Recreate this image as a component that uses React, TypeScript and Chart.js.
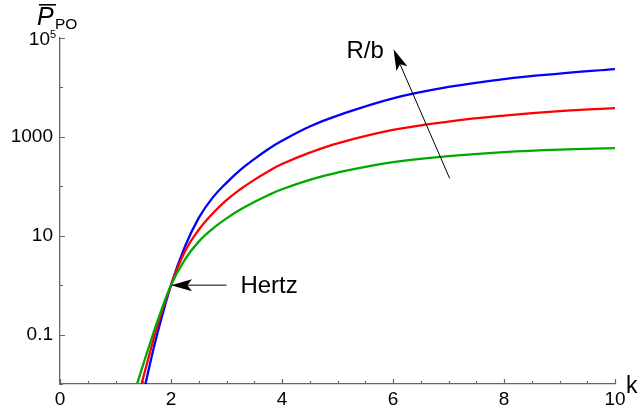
import React, { useEffect, useRef } from 'react';
import { Chart, registerables } from 'chart.js';

Chart.register(...registerables);

// ---- data ----
const kBlue = [1.5, 1.6, 1.75, 2, 2.25, 2.5, 2.75, 3, 3.25, 3.5, 3.75, 4, 4.5, 5, 6, 7, 8, 9, 10];
const pBlue = [0.0063, 0.02, 0.1, 1, 6.0, 22.9, 58.9, 117.5, 214, 355, 562, 832, 1622, 2692, 6026, 10233, 14791, 19055, 23442];
const kRed = [1.4, 1.5, 1.6, 1.75, 2, 2.25, 2.5, 2.75, 3, 3.25, 3.5, 3.75, 4, 4.5, 5, 6, 7, 8, 9, 10];
const pRed = [0.005, 0.0135, 0.0355, 0.145, 1, 4.8, 13.2, 28.2, 52.5, 87, 135, 200, 282, 479, 741, 1380, 2042, 2692, 3311, 3802];
const kGreen = [1.3, 1.4, 1.5, 1.6, 1.75, 2, 2.25, 2.5, 2.75, 3, 3.25, 3.5, 3.75, 4, 4.5, 5, 6, 7, 8, 9, 10];
const pGreen = [0.0047, 0.011, 0.025, 0.056, 0.178, 1, 3.3, 7.6, 13.8, 22.4, 33.9, 47.9, 66, 87, 135, 190, 309, 407, 490, 550, 589];

const xTicks = [0, 2, 4, 6, 8, 10];
const xMinorTicks = [0.5, 1, 1.5, 2.5, 3, 3.5, 4.5, 5, 5.5, 6.5, 7, 7.5, 8.5, 9, 9.5];
const yTicks = [0.01, 0.1, 1, 10, 100, 1000, 10000, 100000];
const yLabeled = [0.1, 10, 1000];
const yLabelText = ['0.1', '10', '1000'];

// annotations (data coordinates)
const hertzTip = [2, 1];
const hertzTail = [3.0, 1];
const hertzTextAt = [3.25, 1];
const rbTip = [6.01, 59000];
const rbTail = [7.02, 145];
const rbTextAt = [5.16, 39800];

const FONT = '"Liberation Sans", Arial, sans-serif';
const AXIS = '#666666';

function arrow(ctx: CanvasRenderingContext2D, x1: number, y1: number, x2: number, y2: number, len: number, hw: number) {
  const dx = x2 - x1, dy = y2 - y1;
  const d = Math.hypot(dx, dy);
  const ux = dx / d, uy = dy / d;
  const px = -uy, py = ux;
  const bx = x2 - ux * len, by = y2 - uy * len;
  const nx = x2 - ux * len * 0.78, ny = y2 - uy * len * 0.78;
  ctx.save();
  ctx.strokeStyle = '#000';
  ctx.lineWidth = 1;
  ctx.beginPath();
  ctx.moveTo(x1, y1);
  ctx.lineTo(nx, ny);
  ctx.stroke();
  ctx.fillStyle = '#000';
  ctx.beginPath();
  ctx.moveTo(x2, y2);
  ctx.lineTo(bx + px * hw, by + py * hw);
  ctx.lineTo(nx, ny);
  ctx.lineTo(bx - px * hw, by - py * hw);
  ctx.closePath();
  ctx.fill();
  ctx.restore();
}

const decor = {
  id: 'decor',
  afterDraw(chart: any) {
    const ctx: CanvasRenderingContext2D = chart.ctx;
    const xs = chart.scales.x, ys = chart.scales.y;
    const area = chart.chartArea;
    const X = (v: number) => xs.getPixelForValue(v);
    const Y = (v: number) => ys.getPixelForValue(v);
    ctx.save();
    // ticks (inward)
    ctx.strokeStyle = AXIS;
    ctx.lineWidth = 1.2;
    ctx.beginPath();
    xTicks.forEach((v) => {
      const x = Math.round(X(v)) + 0.5;
      ctx.moveTo(x, area.bottom);
      ctx.lineTo(x, area.bottom - 5);
    });
    xMinorTicks.forEach((v) => {
      const x = Math.round(X(v)) + 0.5;
      ctx.moveTo(x, area.bottom);
      ctx.lineTo(x, area.bottom - 3);
    });
    yTicks.forEach((v) => {
      const y = Math.round(Y(v)) + 0.5;
      const major = yLabeled.includes(v) || v === 100000;
      ctx.moveTo(area.left, y);
      ctx.lineTo(area.left + (major ? 5 : 3), y);
    });
    ctx.stroke();

    ctx.fillStyle = '#000';
    // 10^5 label
    const y5 = Y(100000);
    ctx.font = `19px ${FONT}`;
    ctx.textAlign = 'right';
    ctx.textBaseline = 'alphabetic';
    ctx.fillText('10', 50, y5 + 7);
    ctx.font = `11px ${FONT}`;
    ctx.textAlign = 'left';
    ctx.fillText('5', 50, y5 - 0.5);

    // y axis title  P̄_PO
    ctx.font = `italic 25px ${FONT}`;
    ctx.fillText('P', 37, 25);
    ctx.fillRect(39, 4, 17, 1.6);
    ctx.font = `15.5px ${FONT}`;
    ctx.fillText('PO', 55, 29);

    // x axis title
    ctx.font = `23px ${FONT}`;
    ctx.fillText('k', 626, 393);

    ctx.restore();
  },
  afterDatasetsDraw(chart: any) {
    const ctx: CanvasRenderingContext2D = chart.ctx;
    const xs = chart.scales.x, ys = chart.scales.y;
    const X = (v: number) => xs.getPixelForValue(v);
    const Y = (v: number) => ys.getPixelForValue(v);
    arrow(ctx, X(hertzTail[0]), Y(hertzTail[1]), X(hertzTip[0]), Y(hertzTip[1]), 21, 6);
    arrow(ctx, X(rbTail[0]), Y(rbTail[1]), X(rbTip[0]), Y(rbTip[1]), 21, 6);
    ctx.save();
    ctx.fillStyle = '#000';
    ctx.font = `24px ${FONT}`;
    ctx.textAlign = 'left';
    ctx.textBaseline = 'middle';
    ctx.fillText('Hertz', X(hertzTextAt[0]), Y(hertzTextAt[1]) + 1);
    ctx.textBaseline = 'alphabetic';
    ctx.fillText('R/b', X(rbTextAt[0]), Y(rbTextAt[1]));
    ctx.restore();
  },
};

function toPoints(ks: number[], ps: number[]) {
  return ks.map((k, i) => ({ x: k, y: ps[i] }));
}

export default function App() {
  const ref = useRef<HTMLCanvasElement>(null);
  useEffect(() => {
    if (!ref.current) return;
    const line = (data: any, color: string) => ({
      data,
      borderColor: color,
      backgroundColor: color,
      borderWidth: 2.3,
      pointRadius: 0,
      fill: false,
      tension: 0.4,
    });
    const chart = new Chart(ref.current, {
      type: 'line',
      data: {
        datasets: [
          line(toPoints(kGreen, pGreen), 'rgb(0,168,0)'),
          line(toPoints(kRed, pRed), 'rgb(255,0,0)'),
          line(toPoints(kBlue, pBlue), 'rgb(0,0,255)'),
        ],
      },
      options: {
        animation: false,
        responsive: false,
        devicePixelRatio: 1,
        layout: { padding: { top: 38, right: 23, left: 0, bottom: 0 } },
        plugins: { legend: { display: false }, tooltip: { enabled: false } },
        scales: {
          x: {
            type: 'linear',
            min: 0,
            max: 10,
            grid: { display: false, drawTicks: false },
            border: { display: true, color: AXIS, width: 1.3 },
            afterBuildTicks: (s: any) => { s.ticks = xTicks.map((v) => ({ value: v })); },
            afterFit: (s: any) => { s.height = 33; },
            ticks: {
              autoSkip: false,
              maxRotation: 0,
              padding: 4,
              color: '#000',
              font: { family: FONT, size: 19 },
              callback: (v: any) => String(v),
            },
          },
          y: {
            type: 'logarithmic',
            min: 0.01,
            max: 100000,
            grid: { display: false, drawTicks: false },
            border: { display: true, color: AXIS, width: 1.3 },
            afterBuildTicks: (s: any) => { s.ticks = yTicks.map((v) => ({ value: v })); },
            afterFit: (s: any) => { s.width = 60; },
            ticks: {
              autoSkip: false,
              padding: 7,
              color: '#000',
              font: { family: FONT, size: 19 },
              callback: (v: any) => {
                const i = yLabeled.findIndex((t) => Math.abs(t - v) / t < 1e-6);
                return i >= 0 ? yLabelText[i] : '';
              },
            },
          },
        },
      },
      plugins: [decor],
    });
    return () => chart.destroy();
  }, []);
  return (
    <div style={{ position: 'absolute', left: 0, top: 0, width: 638, height: 417, background: '#fff' }}>
      <canvas ref={ref} width={638} height={417} style={{ display: 'block' }} />
    </div>
  );
}
